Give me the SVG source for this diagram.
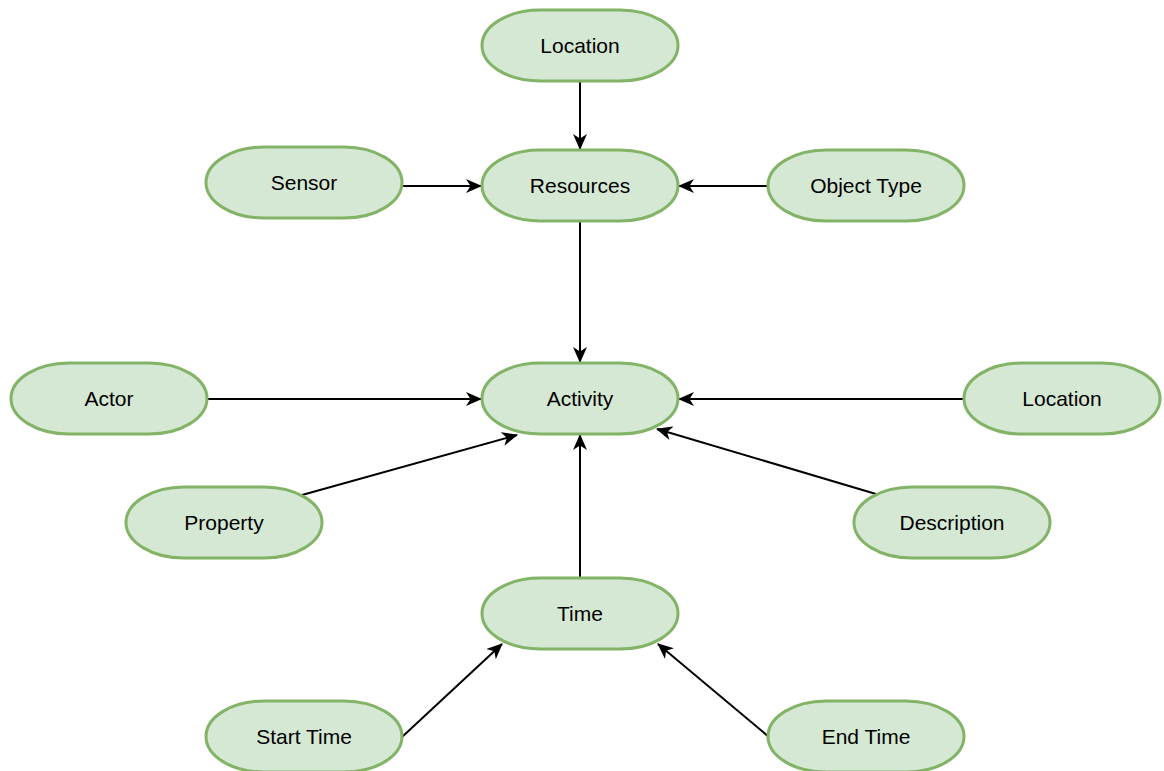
<svg xmlns="http://www.w3.org/2000/svg" width="1164" height="771" viewBox="0 0 1164 771">
  <defs>
    <marker id="arrow" viewBox="0 0 16 14" refX="15" refY="7" markerWidth="16" markerHeight="14" markerUnits="userSpaceOnUse" orient="auto">
      <path d="M0,0 L16,7 L0,14 L4.5,7 Z" fill="#000"/>
    </marker>
    <style>
      .node rect { fill: #d5e8d4; stroke: #82b366; stroke-width: 3; }
      .node text { font-family: "Liberation Sans", Arial, Helvetica, sans-serif; font-size: 21px; fill: #000; text-anchor: middle; dominant-baseline: central; }
      #edges line { stroke: #000; stroke-width: 2; marker-end: url(#arrow); }
    </style>
  </defs>
  <rect width="1164" height="771" fill="#fff"/>

  <g id="edges">
    <line x1="580" y1="81" x2="580" y2="149"/>
    <line x1="402" y1="186" x2="481" y2="186"/>
    <line x1="768" y1="186" x2="679" y2="186"/>
    <line x1="580" y1="221" x2="580" y2="362"/>
    <line x1="207" y1="399" x2="481" y2="399"/>
    <line x1="964" y1="399" x2="679" y2="399"/>
    <line x1="302" y1="495" x2="517" y2="435"/>
    <line x1="876" y1="494" x2="657" y2="429"/>
    <line x1="580" y1="578" x2="580" y2="435"/>
    <line x1="402" y1="737" x2="502" y2="644"/>
    <line x1="769" y1="737" x2="658" y2="644"/>
  </g>

  <g id="location-top" class="node"><rect x="482" y="10" width="196" height="71" rx="58" ry="35.5"/><text x="580" y="45.5">Location</text></g>
  <g id="sensor" class="node"><rect x="206" y="147" width="196" height="71" rx="58" ry="35.5"/><text x="304" y="182.5">Sensor</text></g>
  <g id="resources" class="node"><rect x="482" y="150" width="196" height="71" rx="58" ry="35.5"/><text x="580" y="185.5">Resources</text></g>
  <g id="object-type" class="node"><rect x="768" y="150" width="196" height="71" rx="58" ry="35.5"/><text x="866" y="185.5">Object Type</text></g>
  <g id="actor" class="node"><rect x="11" y="363" width="196" height="71" rx="58" ry="35.5"/><text x="109" y="398.5">Actor</text></g>
  <g id="activity" class="node"><rect x="482" y="363" width="196" height="71" rx="58" ry="35.5"/><text x="580" y="398.5">Activity</text></g>
  <g id="location-right" class="node"><rect x="964" y="363" width="196" height="71" rx="58" ry="35.5"/><text x="1062" y="398.5">Location</text></g>
  <g id="property" class="node"><rect x="126" y="487" width="196" height="71" rx="58" ry="35.5"/><text x="224" y="522.5">Property</text></g>
  <g id="description" class="node"><rect x="854" y="487" width="196" height="71" rx="58" ry="35.5"/><text x="952" y="522.5">Description</text></g>
  <g id="time" class="node"><rect x="482" y="578" width="196" height="71" rx="58" ry="35.5"/><text x="580" y="613.5">Time</text></g>
  <g id="start-time" class="node"><rect x="206" y="701" width="196" height="71" rx="58" ry="35.5"/><text x="304" y="736.5">Start Time</text></g>
  <g id="end-time" class="node"><rect x="768" y="701" width="196" height="71" rx="58" ry="35.5"/><text x="866" y="736.5">End Time</text></g>
</svg>
